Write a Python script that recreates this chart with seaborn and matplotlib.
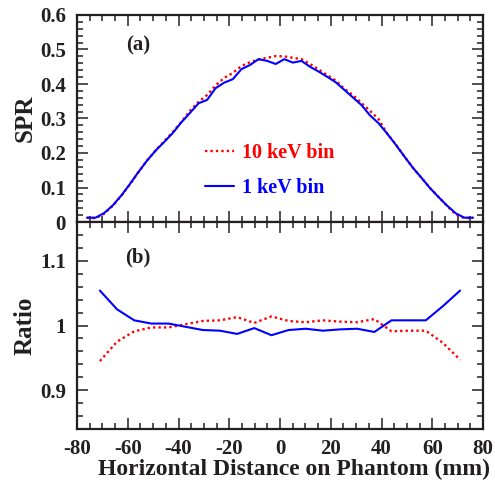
import numpy as np
import pandas as pd
import matplotlib
matplotlib.use("Agg")
import matplotlib.pyplot as plt
import seaborn as sns
from matplotlib.ticker import MultipleLocator, FuncFormatter, FixedLocator

# ---------------- data ----------------
spr_x = [-76.05, -72.67, -69.29, -65.91, -62.53, -59.15, -55.77, -52.39, -49.01, -45.63,
         -42.25, -38.87, -35.49, -32.11, -28.73, -25.35, -21.97, -18.59, -15.21, -11.83,
         -8.45, -5.07, -1.69, 1.69, 5.07, 8.45, 11.83, 15.21, 18.59, 21.97,
         25.35, 28.73, 32.11, 35.49, 38.87, 42.25, 45.63, 49.01, 52.39, 55.77,
         59.15, 62.53, 65.91, 69.29, 72.67, 76.05]
spr_10kev = [0.0125, 0.011, 0.024, 0.047, 0.076, 0.109, 0.145, 0.178, 0.208, 0.234,
             0.261, 0.290, 0.322, 0.348, 0.368, 0.396, 0.418, 0.432, 0.452, 0.463,
             0.471, 0.476, 0.481, 0.480, 0.476, 0.472, 0.458, 0.442, 0.426, 0.410,
             0.386, 0.368, 0.345, 0.322, 0.298, 0.256, 0.225, 0.190, 0.157, 0.128,
             0.098, 0.072, 0.046, 0.022, 0.011, 0.0125]
spr_1kev = [0.0125, 0.0125, 0.026, 0.048, 0.077, 0.110, 0.145, 0.178, 0.207, 0.232,
            0.258, 0.289, 0.316, 0.344, 0.354, 0.388, 0.404, 0.414, 0.443, 0.455,
            0.472, 0.467, 0.458, 0.472, 0.462, 0.467, 0.450, 0.436, 0.421, 0.405,
            0.383, 0.361, 0.339, 0.309, 0.286, 0.256, 0.224, 0.190, 0.157, 0.128,
            0.098, 0.072, 0.047, 0.025, 0.0125, 0.0125]

ratio_x = [-70.98, -64.22, -57.46, -50.70, -43.94, -37.18, -30.42, -23.66, -16.90, -10.14,
           -3.38, 3.38, 10.14, 16.90, 23.66, 30.42, 37.18, 43.94, 50.70, 57.46,
           64.22, 70.98]
ratio_10kev = [0.945, 0.975, 0.991, 0.997, 0.997, 1.002, 1.007, 1.008, 1.013, 1.004,
               1.014, 1.007, 1.005, 1.008, 1.006, 1.005, 1.010, 0.991, 0.992, 0.992,
               0.973, 0.947]
ratio_1kev = [1.054, 1.025, 1.008, 1.003, 1.003, 0.998, 0.993, 0.992, 0.987, 0.996,
              0.985, 0.993, 0.995, 0.992, 0.994, 0.995, 0.990, 1.008, 1.008, 1.008,
              1.030, 1.054]

labels = ["10 keV bin", "1 keV bin"]
x_ticks = [-80, -60, -40, -20, 0, 20, 40, 60, 80]

# ---------------- style ----------------
sns.set_style("ticks")
plt.rcParams["font.family"] = ["Liberation Serif", "DejaVu Serif"]
plt.rcParams["font.weight"] = "bold"
plt.rcParams["axes.unicode_minus"] = False
TXT = "#231f20"

df_spr = pd.DataFrame({"x": spr_x, "a": spr_10kev, "b": spr_1kev})
df_rat = pd.DataFrame({"x": ratio_x, "a": ratio_10kev, "b": ratio_1kev})

fig = plt.figure(figsize=(4.95, 4.83), dpi=100)
L, R = 77 / 495, 483 / 495
y_top, y_mid, y_bot = 1 - 15 / 483, 1 - 222 / 483, 1 - 429 / 483
ax1 = fig.add_axes([L, y_mid, R - L, y_top - y_mid])
ax2 = fig.add_axes([L, y_bot, R - L, y_mid - y_bot], sharex=ax1)

RED, BLUE = "#ff0000", "#0000ff"
DOT = (0, (1, 1.3))

sns.lineplot(data=df_spr, x="x", y="a", ax=ax1, color=RED, linestyle=DOT,
             linewidth=1.7, sort=False, errorbar=None, label=labels[0])
sns.lineplot(data=df_spr, x="x", y="b", ax=ax1, color=BLUE, linestyle="-",
             linewidth=1.5, sort=False, errorbar=None, label=labels[1])
sns.lineplot(data=df_rat, x="x", y="a", ax=ax2, color=RED, linestyle=DOT,
             linewidth=1.7, sort=False, errorbar=None, legend=False)
sns.lineplot(data=df_rat, x="x", y="b", ax=ax2, color=BLUE, linestyle="-",
             linewidth=1.5, sort=False, errorbar=None, legend=False)

ax1.set_xlim(-80, 80)
ax1.set_ylim(0, 0.6)
ax2.set_ylim(0.84, 1.16)

for ax in (ax1, ax2):
    ax.xaxis.set_major_locator(FixedLocator(x_ticks))
    ax.xaxis.set_minor_locator(MultipleLocator(5))
    ax.yaxis.set_minor_locator(MultipleLocator(0.02))
    ax.tick_params(which="both", direction="in", top=True, right=True,
                   width=1.1, color=TXT)
    ax.tick_params(which="major", length=8, labelsize=15, labelcolor=TXT)
    ax.tick_params(which="minor", length=4.5)
    ax.tick_params(axis="y", which="major", pad=8)
    ax.tick_params(axis="x", which="major", pad=7)
    for s in ax.spines.values():
        s.set_linewidth(1.6)
        s.set_color(TXT)
    ax.set_xlabel("")

ax1.yaxis.set_major_locator(MultipleLocator(0.1))
ax2.yaxis.set_major_locator(FixedLocator([0.9, 1.0, 1.1]))
ax1.yaxis.set_major_formatter(FuncFormatter(lambda v, p: "0" if abs(v) < 1e-9 else f"{v:.1f}"))
ax2.yaxis.set_major_formatter(FuncFormatter(lambda v, p: "1" if abs(v - 1) < 1e-9 else f"{v:.1f}"))
ax2.xaxis.set_major_formatter(FuncFormatter(lambda v, p: f"{v:.0f}"))
ax1.tick_params(axis="x", labelbottom=False)

ax1.set_ylabel("SPR", fontsize=18, fontweight="bold", color=TXT)
ax2.set_ylabel("Ratio", fontsize=18, fontweight="bold", color=TXT)
ax2.set_xlabel("Horizontal Distance on Phantom (mm)", fontsize=17,
               fontweight="bold", color=TXT)
ax1.yaxis.set_label_coords(-0.1, 0.5)
ax2.yaxis.set_label_coords(-0.1, 0.5)
ax2.xaxis.set_label_coords(0.534, -0.145)

ax1.text(0.15, 0.855, "(a)", transform=ax1.transAxes, fontsize=15,
         fontweight="bold", color=TXT, ha="center", va="center")
ax2.text(0.15, 0.83, "(b)", transform=ax2.transAxes, fontsize=15,
         fontweight="bold", color=TXT, ha="center", va="center")

handles, labs = ax1.get_legend_handles_labels()
ax1.legend(handles, labs, loc="center left", bbox_to_anchor=(0.27, 0.25),
           frameon=False, labelcolor="linecolor",
           handlelength=1.45, handletextpad=0.4, labelspacing=0.75,
           prop={"weight": "bold", "size": 14.5})

fig.savefig("out.png", dpi=100)
